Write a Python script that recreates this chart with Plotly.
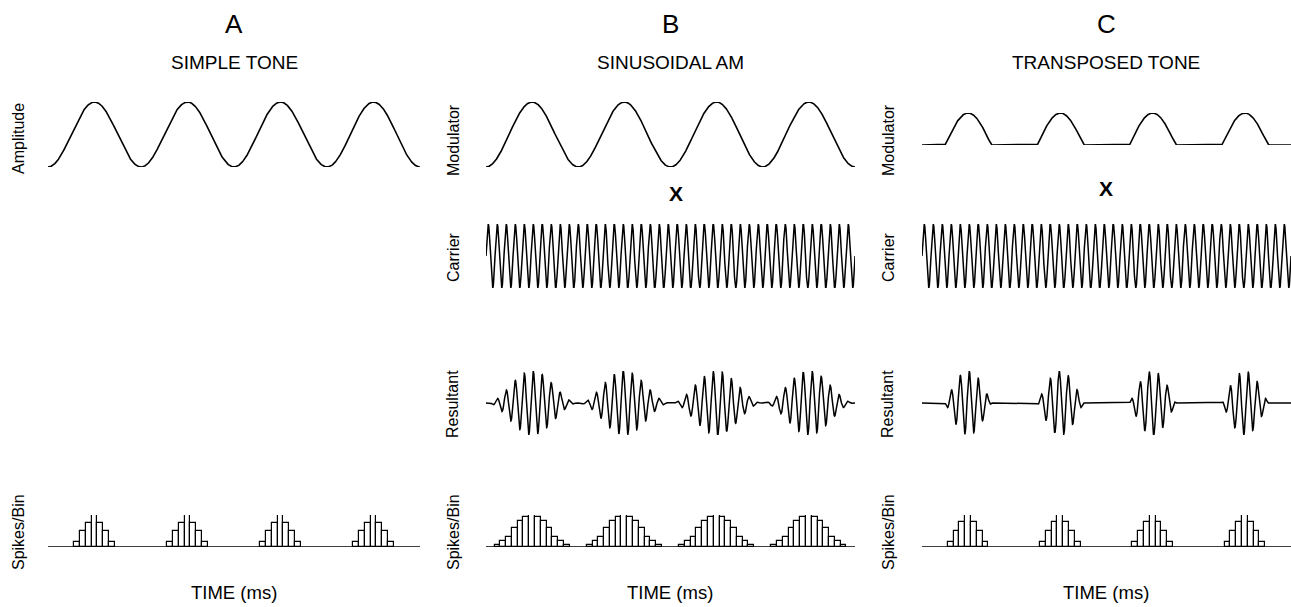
import numpy as np
import plotly.graph_objects as go

# ---------------- data ----------------
panel_letters = ["A", "B", "C"]
panel_titles = ["SIMPLE TONE", "SINUSOIDAL AM", "TRANSPOSED TONE"]
modulator_cycles = 4          # modulation periods shown in each panel
carrier_cycles = 41           # carrier periods shown over the same span
# spike counts per bin (relative), one burst per modulation period
hist_A_bins = [0.16, 0.49, 0.76, 1.0, 0.76, 0.49, 0.16]
hist_B_bins = [0.07, 0.18, 0.32, 0.58, 0.81, 0.94, 1.0, 0.94, 0.81, 0.58, 0.32, 0.18, 0.07]
hist_C_bins = [0.16, 0.49, 0.78, 1.0, 0.78, 0.49, 0.16]
bins_per_cycle = 16
row_labels_A = ["Amplitude", "Spikes/Bin"]
row_labels_BC = ["Modulator", "Carrier", "Resultant", "Spikes/Bin"]
xlabel = "TIME (ms)"

W, H = 1291, 607
FONT = "Liberation Sans, Arial, Helvetica, sans-serif"

fig = go.Figure()
axis_count = [0]
layout_updates = {}


def px_x(p):
    return p / W


def px_y(p):
    return 1 - p / H


def new_axes(x0, x1, ytop, ybot, xr, yr):
    axis_count[0] += 1
    n = axis_count[0]
    xa = "xaxis" if n == 1 else f"xaxis{n}"
    ya = "yaxis" if n == 1 else f"yaxis{n}"
    layout_updates[xa] = dict(domain=[px_x(x0), px_x(x1)], range=xr, visible=False,
                              anchor="y" if n == 1 else f"y{n}", fixedrange=True)
    layout_updates[ya] = dict(domain=[px_y(ybot), px_y(ytop)], range=yr, visible=False,
                              anchor="x" if n == 1 else f"x{n}", fixedrange=True)
    return ("x" if n == 1 else f"x{n}"), ("y" if n == 1 else f"y{n}")


def line(x, y, xa, ya, w=1.6):
    fig.add_trace(go.Scatter(x=x, y=y, mode="lines", xaxis=xa, yaxis=ya,
                             line=dict(color="black", width=w), cliponaxis=False,
                             hoverinfo="skip", showlegend=False))


t = np.linspace(0, modulator_cycles, 8000)
sine_mod = -np.cos(2 * np.pi * t)                   # starts at trough
trans_mod = np.maximum(0, -np.cos(2 * np.pi * t))   # half-wave rectified
carrier = np.sin(2 * np.pi * carrier_cycles / modulator_cycles * t)
am_env = (1 + sine_mod) / 2
res_B = am_env * carrier
res_C = trans_mod * carrier

cols = {"A": (48, 420), "B": (486, 855), "C": (922, 1291)}
xr = [0, modulator_cycles]

# Row 1: stimulus / modulators
xa, ya = new_axes(*cols["A"], 102, 167, xr, [-1, 1]); line(t, sine_mod, xa, ya)
xa, ya = new_axes(*cols["B"], 102, 167, xr, [-1, 1]); line(t, sine_mod, xa, ya)
xa, ya = new_axes(*cols["C"], 113, 145, xr, [0, 1]); line(t, trans_mod, xa, ya)

# Row 2: carriers
xa, ya = new_axes(*cols["B"], 224, 288, xr, [-1, 1]); line(t, carrier, xa, ya, 1.5)
xa, ya = new_axes(*cols["C"], 224, 288, xr, [-1, 1]); line(t, carrier, xa, ya, 1.5)

# Row 3: resultants
xa, ya = new_axes(*cols["B"], 371, 435, xr, [-1, 1]); line(t, res_B, xa, ya, 1.5)
xa, ya = new_axes(*cols["C"], 371, 435, xr, [-1, 1]); line(t, res_C, xa, ya, 1.5)

# Row 4: histograms
for key, bins in (("A", hist_A_bins), ("B", hist_B_bins), ("C", hist_C_bins)):
    xa, ya = new_axes(*cols[key], 515, 547, xr, [0, 1])
    half = (len(bins) - 1) / 2
    bx, by = [], []
    for c in range(modulator_cycles):
        for k, h in enumerate(bins):
            bx.append(c + 0.5 + (k - half) / bins_per_cycle)
            by.append(h)
    fig.add_trace(go.Bar(x=bx, y=by, width=1 / bins_per_cycle, xaxis=xa, yaxis=ya,
                         marker=dict(color="white", line=dict(color="black", width=1.2)),
                         hoverinfo="skip", showlegend=False, cliponaxis=False))
    line([0, modulator_cycles], [0, 0], xa, ya, 1.6)

# ---------------- text ----------------
ann = []


def text(s, x, y, size, angle=0):
    ann.append(dict(text=s, x=px_x(x), y=px_y(y), xref="paper", yref="paper",
                    showarrow=False, xanchor="center", yanchor="middle",
                    textangle=angle, font=dict(family=FONT, size=size, color="black")))


centers = [234, 670, 1106]
for letter, title, cx in zip(panel_letters, panel_titles, centers):
    text(letter, cx, 24, 26)
    text(title, cx, 62, 19)
    text(xlabel, cx, 592, 18.5)

text(row_labels_A[0], 19, 139, 16, -90)
text(row_labels_A[1], 18, 532, 16, -90)
for lx in (453, 888):
    text(row_labels_BC[0], lx, 140, 16, -90)
    text(row_labels_BC[1], lx, 257, 16, -90)
    text(row_labels_BC[2], lx, 404, 16, -90)
    text(row_labels_BC[3], lx, 532, 16, -90)

text("<b>X</b>", 676, 193, 21)
text("<b>X</b>", 1106, 188, 21)

fig.update_layout(width=W, height=H, margin=dict(l=0, r=0, t=0, b=0),
                  paper_bgcolor="white", plot_bgcolor="rgba(0,0,0,0)",
                  annotations=ann, bargap=0, showlegend=False, **layout_updates)
fig.write_html("out.html", config={"displayModeBar": False})
